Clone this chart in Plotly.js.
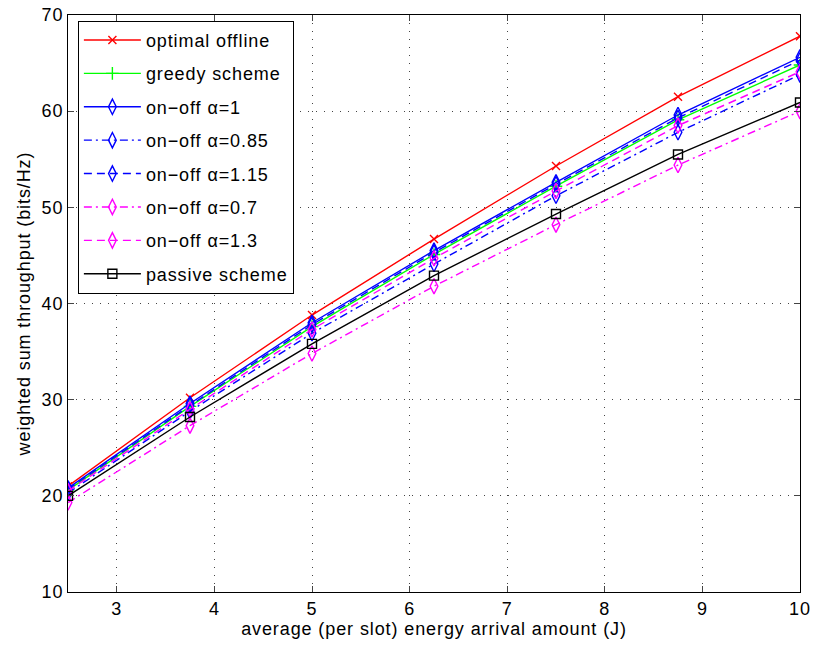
<!DOCTYPE html>
<html>
<head>
<meta charset="utf-8">
<script src="https://cdn.plot.ly/plotly-3.0.1.min.js"></script>
<style>html,body{margin:0;padding:0;background:#fff;}#chart{width:813px;height:646px;} text{letter-spacing:0.9px;}</style>
</head>
<body>
<div id="chart"></div>
<script>
const energy = [2.5, 3.75, 5, 6.25, 7.5, 8.75, 10];
const optimalOffline = [21.0, 30.2, 38.8, 46.7, 54.3, 61.5, 67.8];
const greedyScheme   = [20.6, 29.3, 37.6, 45.1, 52.2, 59.1, 64.8];
const onoff1         = [20.8, 29.6, 38.0, 45.5, 52.6, 59.6, 65.6];
const onoff085       = [20.3, 28.8, 36.9, 44.1, 51.2, 57.8, 63.8];
const onoff115       = [20.7, 29.4, 37.8, 45.3, 52.4, 59.3, 65.3];
const onoff07        = [19.3, 27.3, 34.8, 41.8, 48.2, 54.4, 60.0];
const onoff13        = [20.5, 29.0, 37.3, 44.7, 51.7, 58.5, 64.1];
const passiveScheme  = [20.0, 28.2, 35.8, 42.9, 49.3, 55.5, 60.9];
const seriesNames = ['optimal offline', 'greedy scheme', 'on\u2212off \u03b1=1', 'on\u2212off \u03b1=0.85',
                     'on\u2212off \u03b1=1.15', 'on\u2212off \u03b1=0.7', 'on\u2212off \u03b1=1.3', 'passive scheme'];
const xTicks = [3, 4, 5, 6, 7, 8, 9, 10];
const yTicks = [10, 20, 30, 40, 50, 60, 70];

const DASH = '8px,5px';
const DASHDOT = '8px,4px,2px,4px';
const styles = [
  {data: optimalOffline, color: '#ff0000', dash: 'solid', symbol: 'x-thin-open', size: 8},
  {data: greedyScheme, color: '#00ff00', dash: 'solid', symbol: 'cross-thin-open', size: 9},
  {data: onoff1, color: '#0000ff', dash: 'solid', symbol: 'diamond-tall-open', size: 11},
  {data: onoff085, color: '#0000ff', dash: DASHDOT, symbol: 'diamond-tall-open', size: 11},
  {data: onoff115, color: '#0000ff', dash: DASH, symbol: 'diamond-tall-open', size: 11},
  {data: onoff07, color: '#ff00ff', dash: DASHDOT, symbol: 'diamond-tall-open', size: 11},
  {data: onoff13, color: '#ff00ff', dash: DASH, symbol: 'diamond-tall-open', size: 11},
  {data: passiveScheme, color: '#000000', dash: 'solid', symbol: 'square-open', size: 9}
];

const traces = styles.map((s, i) => ({
  x: energy, y: s.data, name: seriesNames[i], type: 'scatter', mode: 'lines+markers',
  legendgroup: 'g' + i,
  line: {color: s.color, width: 1.4, dash: s.dash},
  marker: {symbol: s.symbol, size: s.size, color: s.color, line: {color: s.color, width: 1.4}}
}));

const layout = {
  width: 813, height: 646,
  margin: {l: 68, r: 13, t: 15, b: 54},
  paper_bgcolor: '#fff', plot_bgcolor: '#fff',
  font: {family: 'Liberation Sans, Arial, sans-serif', size: 18, color: '#000'},
  showlegend: true,
  legend: {x: 0.0135, y: 0.99, xanchor: 'left', yanchor: 'top', bgcolor: '#fff',
           bordercolor: '#000', borderwidth: 1, font: {size: 18}, tracegroupgap: 7,
           traceorder: 'grouped', itemwidth: 57},
  xaxis: {range: [2.5, 10], tickvals: xTicks, ticks: 'inside', ticklen: 6, mirror: 'ticks',
          showline: true, linecolor: '#000', linewidth: 1, showgrid: true, gridcolor: '#444',
          griddash: '1px,7px', gridwidth: 1, zeroline: false, tickfont: {size: 18},
          title: {text: 'average (per slot) energy arrival amount (J)', font: {size: 18}, standoff: 2}},
  yaxis: {range: [10, 70], tickvals: yTicks, ticks: 'inside', ticklen: 6, mirror: 'ticks',
          showline: true, linecolor: '#000', linewidth: 1, showgrid: true, gridcolor: '#444',
          griddash: '1px,7px', gridwidth: 1, zeroline: false, tickfont: {size: 18},
          title: {text: 'weighted sum throughput (bits/Hz)', font: {size: 18}, standoff: 6}}
};

Plotly.newPlot('chart', traces, layout, {displayModeBar: false, staticPlot: true});
</script>
</body>
</html>
